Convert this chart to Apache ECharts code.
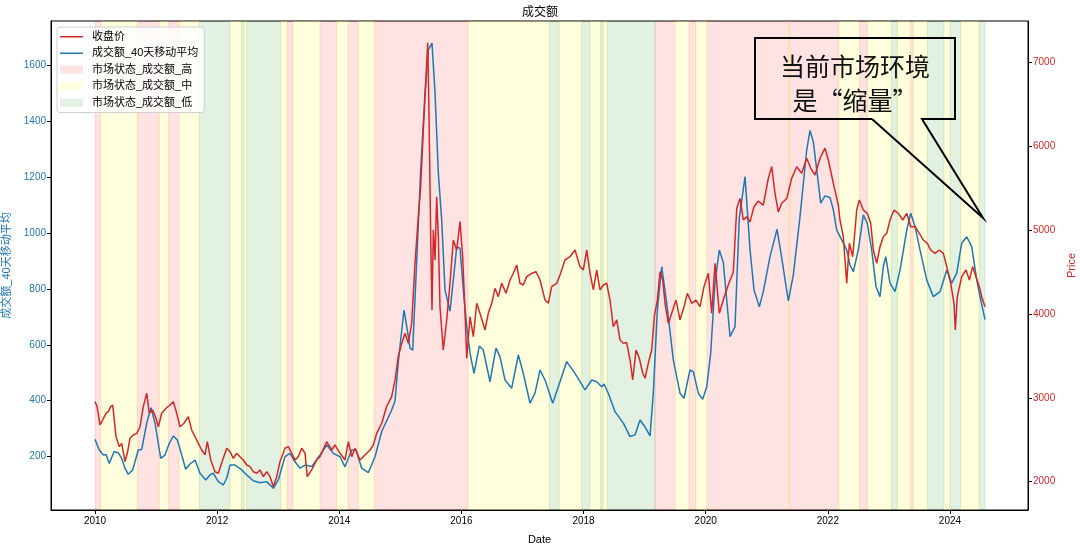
<!DOCTYPE html>
<html>
<head>
<meta charset="utf-8">
<script src="https://cdn.jsdelivr.net/npm/echarts@6/dist/echarts.min.js"></script>
<style>html,body{margin:0;padding:0;background:#fff;}#chart{width:1080px;height:548px;}</style>
</head>
<body>
<div id="chart"></div>
<script>
// ---- data (dates as fractional years) ----
const amtYears = [2010.000,2010.070,2010.136,2010.180,2010.234,2010.311,2010.382,2010.437,2010.491,2010.545,2010.617,2010.709,2010.765,2010.847,2010.917,2010.983,2011.076,2011.146,2011.217,2011.282,2011.348,2011.420,2011.485,2011.556,2011.638,2011.719,2011.813,2011.883,2011.937,2012.019,2012.101,2012.157,2012.211,2012.293,2012.402,2012.484,2012.592,2012.702,2012.812,2012.920,2013.002,2013.111,2013.193,2013.275,2013.357,2013.439,2013.553,2013.684,2013.794,2013.902,2014.012,2014.094,2014.203,2014.274,2014.367,2014.475,2014.585,2014.695,2014.858,2014.913,2014.967,2015.022,2015.060,2015.114,2015.158,2015.202,2015.268,2015.333,2015.404,2015.458,2015.486,2015.518,2015.568,2015.622,2015.677,2015.731,2015.813,2015.867,2015.923,2015.977,2016.031,2016.087,2016.141,2016.206,2016.293,2016.358,2016.468,2016.566,2016.632,2016.714,2016.823,2016.932,2017.013,2017.123,2017.205,2017.287,2017.369,2017.495,2017.614,2017.724,2017.860,2018.024,2018.133,2018.215,2018.297,2018.335,2018.405,2018.515,2018.651,2018.761,2018.843,2018.924,2019.006,2019.088,2019.142,2019.208,2019.280,2019.362,2019.470,2019.579,2019.645,2019.743,2019.797,2019.879,2019.951,2020.017,2020.082,2020.153,2020.223,2020.288,2020.344,2020.398,2020.480,2020.550,2020.644,2020.726,2020.791,2020.878,2020.943,2021.053,2021.168,2021.245,2021.353,2021.435,2021.544,2021.654,2021.708,2021.762,2021.818,2021.883,2021.954,2022.036,2022.090,2022.145,2022.227,2022.309,2022.363,2022.417,2022.499,2022.581,2022.646,2022.718,2022.789,2022.854,2022.908,2022.948,2023.018,2023.100,2023.182,2023.292,2023.357,2023.428,2023.509,2023.619,2023.727,2023.837,2023.947,2024.028,2024.110,2024.192,2024.274,2024.356,2024.438,2024.492,2024.574];
const amtValues = [262,224,206,208,176,218,214,194,159,137,153,224,226,320,375,320,194,206,248,274,260,206,155,174,188,141,117,135,141,111,99,123,170,170,153,135,114,107,111,87,117,200,212,182,159,170,165,206,242,212,200,164,224,224,159,143,200,290,367,400,540,650,724,653,588,581,900,1225,1500,1654,1650,1678,1500,1213,1046,796,720,830,950,945,796,665,570,498,596,581,468,588,557,474,445,564,498,391,427,510,474,391,468,540,498,439,474,468,450,460,427,361,320,272,278,331,307,274,427,724,879,748,546,427,409,510,504,427,405,450,570,825,939,895,760,629,665,1052,1201,939,796,736,790,915,1013,910,757,850,1058,1296,1366,1326,1225,1106,1132,1126,1082,1010,975,939,885,861,939,1064,1034,939,808,772,879,915,820,790,867,1010,1070,1022,939,832,772,790,867,820,856,963,986,951,832,772,690];

const priceYears = [2010.000,2010.033,2010.082,2010.126,2010.180,2010.218,2010.257,2010.290,2010.344,2010.398,2010.437,2010.491,2010.529,2010.573,2010.627,2010.683,2010.737,2010.791,2010.847,2010.889,2010.945,2010.999,2011.037,2011.092,2011.163,2011.228,2011.282,2011.338,2011.392,2011.457,2011.528,2011.583,2011.638,2011.692,2011.747,2011.801,2011.839,2011.895,2011.965,2012.019,2012.091,2012.157,2012.211,2012.265,2012.320,2012.374,2012.428,2012.484,2012.538,2012.592,2012.648,2012.702,2012.756,2012.812,2012.866,2012.920,2012.975,2013.029,2013.111,2013.165,2013.221,2013.275,2013.329,2013.385,2013.439,2013.476,2013.548,2013.630,2013.684,2013.794,2013.876,2013.930,2014.012,2014.094,2014.148,2014.203,2014.258,2014.339,2014.421,2014.503,2014.557,2014.613,2014.695,2014.777,2014.858,2014.913,2014.967,2015.022,2015.076,2015.130,2015.186,2015.240,2015.294,2015.333,2015.376,2015.420,2015.448,2015.469,2015.497,2015.518,2015.540,2015.568,2015.595,2015.622,2015.649,2015.703,2015.759,2015.813,2015.867,2015.923,2015.977,2016.021,2016.059,2016.087,2016.141,2016.195,2016.250,2016.304,2016.386,2016.440,2016.496,2016.550,2016.604,2016.660,2016.730,2016.796,2016.850,2016.905,2016.959,2017.013,2017.069,2017.151,2017.221,2017.287,2017.369,2017.423,2017.478,2017.560,2017.614,2017.696,2017.778,2017.860,2017.942,2017.996,2018.052,2018.106,2018.160,2018.215,2018.269,2018.323,2018.379,2018.433,2018.487,2018.543,2018.597,2018.651,2018.706,2018.761,2018.805,2018.859,2018.913,2018.969,2019.006,2019.060,2019.116,2019.158,2019.208,2019.252,2019.296,2019.334,2019.388,2019.443,2019.514,2019.579,2019.645,2019.699,2019.771,2019.841,2019.907,2019.972,2020.043,2020.098,2020.153,2020.223,2020.288,2020.370,2020.452,2020.508,2020.562,2020.616,2020.672,2020.726,2020.791,2020.862,2020.943,2021.025,2021.081,2021.135,2021.189,2021.245,2021.327,2021.408,2021.490,2021.572,2021.654,2021.720,2021.790,2021.872,2021.954,2022.008,2022.090,2022.172,2022.199,2022.253,2022.309,2022.352,2022.407,2022.473,2022.515,2022.581,2022.646,2022.702,2022.745,2022.800,2022.854,2022.908,2022.964,2023.018,2023.084,2023.154,2023.226,2023.292,2023.357,2023.428,2023.498,2023.563,2023.629,2023.684,2023.755,2023.825,2023.891,2023.947,2024.012,2024.066,2024.087,2024.120,2024.192,2024.263,2024.317,2024.372,2024.426,2024.480,2024.519,2024.574];
const priceValues = [2955,2900,2677,2736,2816,2835,2895,2915,2537,2418,2457,2239,2339,2518,2557,2577,2656,2895,3055,2816,2856,2756,2656,2816,2876,2915,2955,2816,2656,2697,2776,2617,2537,2458,2378,2319,2477,2259,2119,2100,2259,2399,2358,2279,2339,2298,2259,2199,2179,2119,2100,2140,2060,2119,2060,1940,2060,2239,2399,2418,2339,2259,2298,2399,2339,2060,2140,2259,2298,2477,2378,2438,2339,2259,2477,2298,2399,2259,2319,2378,2438,2577,2697,2900,3014,3214,3500,3650,3771,3652,3890,4606,5162,5520,6197,6833,7239,6396,4924,4049,5004,4646,5401,4924,4088,3572,3930,4368,4884,4765,5103,4685,4010,3473,3969,3730,4129,4010,3810,4010,4129,4308,4208,4368,4248,4407,4487,4586,4368,4347,4447,4487,4506,4407,4168,4129,4327,4368,4467,4646,4685,4765,4566,4526,4765,4487,4288,4526,4288,4347,4368,4168,3850,3930,3691,3652,3660,3452,3214,3572,3473,3294,3234,3413,3572,3969,4168,4506,4407,4129,3890,4010,4168,3930,4088,4248,4129,4168,4088,4327,4487,4010,4606,4010,4168,4350,4500,5260,5380,5123,5162,5100,5282,5350,5300,5620,5759,5441,5220,5322,5380,5620,5759,5680,5860,5740,5660,5860,5980,5839,5560,5300,5123,4924,4368,4845,4685,5242,5362,5242,5203,5083,4765,4606,4804,4924,4964,5123,5242,5203,5123,5203,5043,5043,4964,4884,4845,4765,4725,4765,4725,4566,4368,4129,3810,4208,4447,4526,4407,4566,4447,4327,4208,4088];

// regime periods [start, end]
const highBands = [[2010.000,2010.093],[2010.693,2011.053],[2011.204,2011.379],[2013.144,2013.242],[2013.684,2013.958],[2014.148,2014.311],[2014.573,2016.110],[2019.170,2019.500],[2019.730,2019.840],[2020.020,2021.365],[2021.380,2022.180],[2022.520,2022.650],[2023.350,2023.400]];
const midBands = [[2010.093,2010.693],[2011.053,2011.204],[2011.379,2011.708],[2012.211,2012.399],[2012.440,2012.484],[2013.041,2013.144],[2013.242,2013.684],[2013.958,2014.148],[2014.311,2014.573],[2016.110,2017.440],[2017.600,2017.970],[2018.105,2018.280],[2018.320,2018.390],[2019.500,2019.730],[2019.840,2020.020],[2021.365,2021.380],[2022.180,2022.520],[2022.650,2023.040],[2023.140,2023.350],[2023.400,2023.630],[2023.900,2024.000],[2024.175,2024.475]];
const lowBands = [[2011.708,2012.211],[2012.399,2012.440],[2012.484,2013.041],[2017.440,2017.600],[2017.970,2018.105],[2018.280,2018.320],[2018.390,2019.170],[2023.040,2023.140],[2023.630,2023.900],[2024.000,2024.175],[2024.475,2024.574]];

const xTicks = [2010,2012,2014,2016,2018,2020,2022,2024];
const leftTicks = [200,400,600,800,1000,1200,1400,1600];
const rightTicks = [2000,3000,4000,5000,6000,7000];

const FONT = '"Liberation Sans", Arial, "Noto Sans CJK SC", sans-serif';
const BLUE = '#1f77b4', RED = '#d62728';
const HIGH_C = 'rgba(255,0,0,0.11)', MID_C = 'rgba(255,255,0,0.13)', LOW_C = 'rgba(0,128,0,0.11)';
const LINE_ICON = 'path://M0,0 H23 V1.5 H0 Z';

function zip(a, b) { return a.map((v, i) => [v, b[i]]); }
function bandRender(color) {
  return function (params, api) {
    const s = api.coord([api.value(0), 0]);
    const e = api.coord([api.value(1), 0]);
    const cs = params.coordSys;
    return { type: 'rect', shape: { x: s[0], y: cs.y, width: e[0] - s[0], height: cs.height },
      style: { fill: color, stroke: color, lineWidth: 1 } };
  };
}
function bandSeries(name, data, color) {
  return { name: name, type: 'custom', renderItem: bandRender(color), data: data,
    encode: { x: [0, 1] }, xAxisIndex: 0, yAxisIndex: 0, itemStyle: { color: color }, z: 0, silent: true, clip: true };
}

const chart = echarts.init(document.getElementById('chart'), null, { renderer: 'canvas' });
chart.setOption({
  animation: false,
  backgroundColor: '#fff',
  title: { text: '成交额', left: 'center', top: 2, textStyle: { fontFamily: FONT, fontSize: 12, fontWeight: 'normal', color: '#000' } },
  grid: { left: 51, right: 52, top: 21, bottom: 38, containLabel: false, outerBoundsMode: 'none',
    show: true, borderColor: '#000', borderWidth: 1, backgroundColor: 'transparent' },
  legend: {
    orient: 'vertical', left: 57, top: 27, padding: [3, 6, 3, 3], itemGap: 3, itemWidth: 23, itemHeight: 8,
    symbolKeepAspect: true,
    backgroundColor: 'rgba(255,255,255,0.8)', borderColor: '#d0d0d0', borderWidth: 1, borderRadius: 3,
    textStyle: { fontFamily: FONT, fontSize: 11, color: '#000', padding: [0, 0, 0, 4], lineHeight: 13.5 },
    data: [
      { name: '收盘价', icon: LINE_ICON },
      { name: '成交额_40天移动平均', icon: LINE_ICON },
      { name: '市场状态_成交额_高', icon: 'rect' },
      { name: '市场状态_成交额_中', icon: 'rect' },
      { name: '市场状态_成交额_低', icon: 'rect' }
    ]
  },
  xAxis: {
    type: 'value', min: 2009.2795, max: 2025.2775, name: 'Date', nameLocation: 'middle', nameGap: 24,
    nameTextStyle: { fontFamily: FONT, fontSize: 11, color: '#000' },
    axisLine: { show: true, lineStyle: { color: '#000', width: 1 } },
    axisTick: { show: true, length: 4, lineStyle: { color: '#000' }, customValues: xTicks },
    axisLabel: { fontFamily: FONT, fontSize: 10, color: '#000', margin: 6, customValues: xTicks, formatter: v => String(Math.round(v)) },
    splitLine: { show: false }
  },
  yAxis: [
    {
      type: 'value', position: 'left', min: 9.6, max: 1757, name: '成交额_40天移动平均', nameLocation: 'middle', nameRotate: 90, nameGap: 35,
      nameTextStyle: { fontFamily: FONT, fontSize: 11, color: BLUE },
      axisLine: { show: true, lineStyle: { color: '#000' } },
      axisTick: { show: true, length: 4, lineStyle: { color: '#000' }, customValues: leftTicks },
      axisLabel: { fontFamily: FONT, fontSize: 10, color: BLUE, margin: 5, customValues: leftTicks, formatter: v => String(Math.round(v)) },
      splitLine: { show: false }
    },
    {
      type: 'value', position: 'right', min: 1662, max: 7498, name: 'Price', nameLocation: 'middle', nameRotate: 90, nameGap: 36,
      nameTextStyle: { fontFamily: FONT, fontSize: 11, color: RED },
      axisLine: { show: true, lineStyle: { color: '#000' } },
      axisTick: { show: true, length: 4, lineStyle: { color: '#000' }, customValues: rightTicks },
      axisLabel: { fontFamily: FONT, fontSize: 10, color: RED, margin: 5, customValues: rightTicks, formatter: v => String(Math.round(v)) },
      splitLine: { show: false }
    }
  ],
  series: [
    bandSeries('市场状态_成交额_高', highBands, HIGH_C),
    bandSeries('市场状态_成交额_中', midBands, MID_C),
    bandSeries('市场状态_成交额_低', lowBands, LOW_C),
    { name: '成交额_40天移动平均', type: 'line', yAxisIndex: 0, data: zip(amtYears, amtValues), symbol: 'none', smooth: false,
      lineStyle: { color: BLUE, width: 1.5 }, itemStyle: { color: BLUE }, z: 3 },
    { name: '收盘价', type: 'line', yAxisIndex: 1, data: zip(priceYears, priceValues), symbol: 'none', smooth: false,
      lineStyle: { color: RED, width: 1.5 }, itemStyle: { color: RED }, z: 4 }
  ],
  graphic: [
    { type: 'polyline', z: 100, silent: true,
      shape: { points: [[872, 119], [755, 119], [755, 38], [955, 38], [955, 119], [922, 119], [983, 218], [872, 119]] },
      style: { stroke: '#000', lineWidth: 2, fill: null } },
    { type: 'text', z: 101, silent: true, x: 855, y: 83,
      style: { text: '当前市场环境\n是“缩量”', align: 'center', verticalAlign: 'middle', font: '25px "Noto Sans CJK SC"', lineHeight: 34, fill: '#111' } }
  ]
});
</script>
</body>
</html>
